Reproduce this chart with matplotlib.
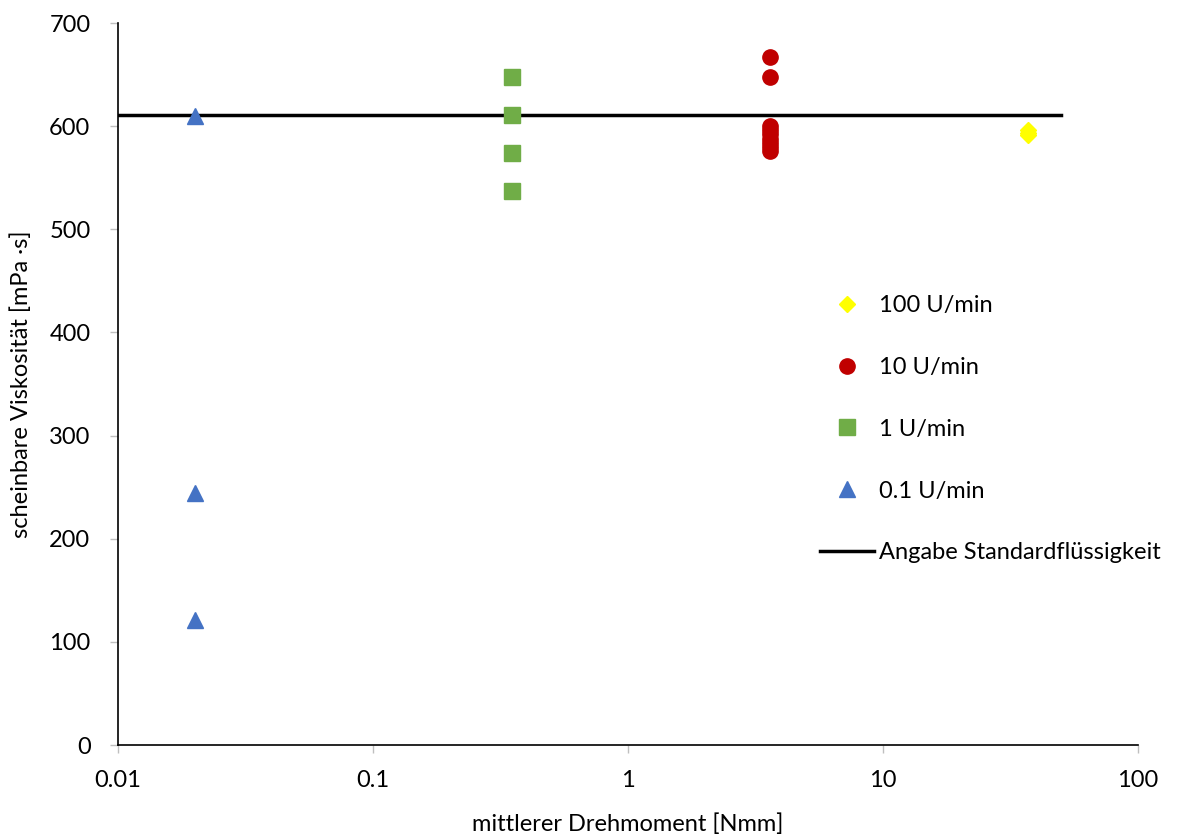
import matplotlib
matplotlib.use('Agg')
import matplotlib.pyplot as plt
from matplotlib.ticker import FixedLocator, NullLocator, FixedFormatter

plt.rcParams['font.family'] = ['Lato', 'DejaVu Sans']

# mean torque [Nmm] and apparent viscosity [mPa s] per speed
x_100 = [37, 37, 37]
y_100 = [591, 593, 596]

x_10 = [3.62] * 9
y_10 = [667, 648, 600, 596, 592, 588, 584, 580, 576]

x_1 = [0.35, 0.35, 0.35, 0.35]
y_1 = [648, 611, 574, 537]

x_01 = [0.02, 0.02, 0.02]
y_01 = [610, 244, 121]

ref_x = [0.01, 50]
ref_y = [611, 611]

xticks = [0.01, 0.1, 1, 10, 100]
xticklabels = ['0.01', '0.1', '1', '10', '100']
yticks = [0, 100, 200, 300, 400, 500, 600, 700]

W, H = 1182, 834
fs = 17
fig = plt.figure(figsize=(W / 100, H / 100), dpi=100)
ax = fig.add_axes([118 / W, 1 - 745 / H, (1138 - 118) / W, (745 - 23) / H])

ax.plot(x_100, y_100, 'D', color='#FFFF00', markersize=8, label='100 U/min', zorder=3)
ax.plot(x_10, y_10, 'o', color='#C00000', markersize=11, label='10 U/min', zorder=3)
ax.plot(x_1, y_1, 's', color='#70AD47', markersize=11, label='1 U/min', zorder=3)
ax.plot(x_01, y_01, '^', color='#4472C4', markersize=11, label='0.1 U/min', zorder=3)
ax.plot(ref_x, ref_y, '-', color='black', linewidth=2.5, label='Angabe Standardflüssigkeit', zorder=2)

ax.set_xscale('log')
ax.set_xlim(0.01, 100)
ax.set_ylim(0, 700)
ax.xaxis.set_major_locator(FixedLocator(xticks))
ax.xaxis.set_major_formatter(FixedFormatter(xticklabels))
ax.xaxis.set_minor_locator(NullLocator())
ax.set_yticks(yticks)

for s in ['top', 'right']:
    ax.spines[s].set_visible(False)
for s in ['left', 'bottom']:
    ax.spines[s].set_linewidth(1.2)
ax.tick_params(axis='both', direction='out', length=5.8, width=1, color='#BFBFBF',
               labelsize=fs)
ax.tick_params(axis='y', pad=14)
ax.tick_params(axis='x', pad=12)

ax.set_xlabel('mittlerer Drehmoment [Nmm]', fontsize=fs, labelpad=16)
ax.set_ylabel('scheinbare Viskosität [mPa ·s]', fontsize=fs, labelpad=12)

ax.legend(loc='upper left', bbox_to_anchor=(820 / W, 1 - 295 / H),
          bbox_transform=fig.transFigure, frameon=False, fontsize=fs,
          handlelength=2.3, handletextpad=0.2, labelspacing=1.73,
          borderpad=0, borderaxespad=0, numpoints=1)

fig.savefig('out.png', dpi=100)
